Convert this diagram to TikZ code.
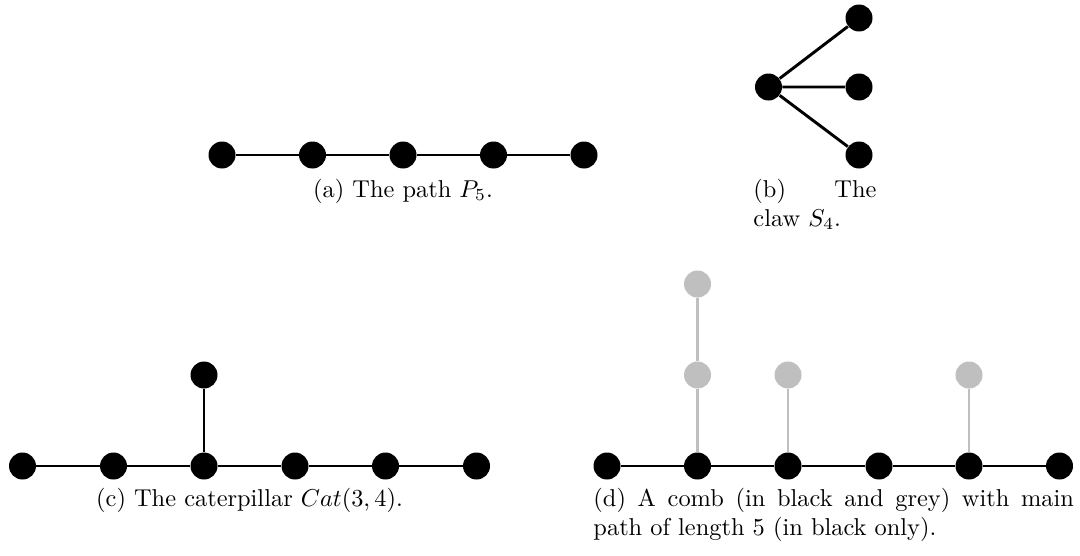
\documentclass[tikz,border=0pt]{standalone}
\begin{document}
\begin{tikzpicture}[x=0.41pt,y=-0.41pt,
  vtx/.style={circle,fill=black,draw=none,inner sep=0pt,minimum size=27*0.41pt},
  gvtx/.style={circle,fill=black!25,draw=none,inner sep=0pt,minimum size=27*0.41pt},
  edgeline/.style={line width=1.2pt,black},
  gedgeline/.style={line width=1.2pt,black!25},
  captxt/.style={font=\normalsize,inner sep=0pt}]
\useasboundingbox (0,0) rectangle (1080,556);
% (a) path P5
\foreach \i/\x in {1/222,2/312.5,3/403,4/493.5,5/584}{\node[vtx] (a\i) at (\x,155) {};}
\draw[edgeline] (a1)--(a2) (a2)--(a3) (a3)--(a4) (a4)--(a5);
\node[captxt,anchor=base] (capa) at (403,197) {(a) The path $P_5$.};
% (b) claw
\node[vtx] (b0) at (768.5,87) {};
\node[vtx] (b1) at (859,18) {};
\node[vtx] (b2) at (859,87) {};
\node[vtx] (b3) at (859,155) {};
\draw[edgeline] (b0)--(b1) (b0)--(b2) (b0)--(b3);
\node[captxt,anchor=base west,text width=50.4pt,align=justify] (capb) at (753,197) {(b) The\linebreak claw $S_4$.};
% (c) caterpillar
\foreach \i/\x in {1/22.5,2/113.5,3/204,4/295,5/385.5,6/476.5}{\node[vtx] (c\i) at (\x,466) {};}
\node[vtx] (c7) at (204,375) {};
\draw[edgeline] (c1)--(c2) (c2)--(c3) (c3)--(c4) (c4)--(c5) (c5)--(c6) (c3)--(c7);
\node[captxt,anchor=base] (capc) at (249.5,506) {(c) The caterpillar $Cat(3,4)$.};
% (d) comb
\foreach \i/\x in {1/607,2/697.5,3/788,4/879,5/969,6/1059.5}{\node[vtx] (d\i) at (\x,466) {};}
\node[gvtx] (g1) at (697.5,375) {};
\node[gvtx] (g2) at (697.5,284) {};
\node[gvtx] (g3) at (788,375) {};
\node[gvtx] (g4) at (969,375) {};
\draw[gedgeline] (d2)--(g1) (g1)--(g2) (d3)--(g3) (d5)--(g4);
\draw[edgeline] (d1)--(d2) (d2)--(d3) (d3)--(d4) (d4)--(d5) (d5)--(d6);
\node[captxt,anchor=base west,text width=197pt,align=justify] (capd) at (593,506) {(d) A comb (in black and grey) with main\linebreak path of length 5 (in black only).};
\end{tikzpicture}
\end{document}
